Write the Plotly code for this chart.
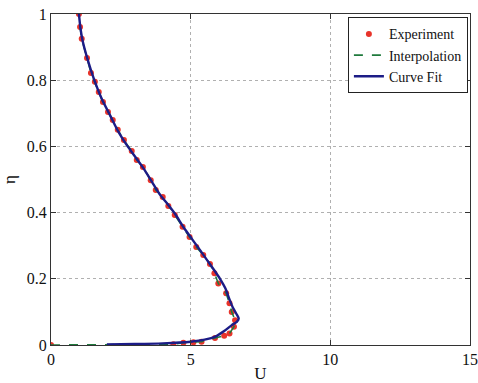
import plotly.graph_objects as go

# Experiment data (U, eta)
exp_u = [0.0, 4.38, 4.74, 5.10, 5.39, 5.87, 6.20, 6.39, 6.55, 6.59, 6.47, 6.39, 6.27, 5.99,
         5.85, 5.69, 5.45, 5.20, 4.96, 4.71, 4.43, 4.20, 4.00, 3.75, 3.57, 3.29, 3.07,
         2.89, 2.61, 2.39, 2.21, 2.04, 1.86, 1.71, 1.57, 1.43, 1.29, 1.10, 1.04, 1.00]
exp_eta = [0.0, 0.002, 0.007, 0.008, 0.010, 0.021, 0.028, 0.035, 0.055, 0.075, 0.100, 0.126, 0.156, 0.186,
           0.217, 0.245, 0.272, 0.296, 0.326, 0.357, 0.393, 0.420, 0.447, 0.468, 0.498, 0.538, 0.559,
           0.586, 0.619, 0.650, 0.680, 0.704, 0.734, 0.764, 0.795, 0.822, 0.867, 0.925, 0.961, 1.000]

# Interpolation through the experimental points
interp_u = [0.0, 2.0, 4.38, 4.74, 5.10, 5.39, 5.87, 6.20, 6.39, 6.55, 6.59, 6.47, 6.39, 6.27, 5.99,
            5.85, 5.69, 5.45, 5.20, 4.96, 4.71, 4.43, 4.20, 4.00, 3.75, 3.57, 3.29, 3.07,
            2.89, 2.61, 2.39, 2.21, 2.04, 1.86, 1.71, 1.57, 1.43, 1.29, 1.10, 1.04, 1.00]
interp_eta = [0.0, 0.001, 0.002, 0.007, 0.008, 0.010, 0.021, 0.028, 0.035, 0.055, 0.075, 0.100, 0.126, 0.156, 0.186,
              0.217, 0.245, 0.272, 0.296, 0.326, 0.357, 0.393, 0.420, 0.447, 0.468, 0.498, 0.538, 0.559,
              0.586, 0.619, 0.650, 0.680, 0.704, 0.734, 0.764, 0.795, 0.822, 0.867, 0.925, 0.961, 1.000]

# Curve fit
fit_u = [2.0, 3.0, 4.0, 5.0, 5.5, 5.9, 6.2, 6.47, 6.65, 6.72, 6.63, 6.50, 6.38, 6.25, 6.05,
         5.85, 5.60, 5.35, 5.05, 4.75, 4.45, 4.18, 3.92, 3.62, 3.32, 3.02, 2.72, 2.42,
         2.12, 1.82, 1.52, 1.31, 1.13, 1.05, 1.00]
fit_eta = [0.002, 0.003, 0.005, 0.010, 0.016, 0.026, 0.042, 0.060, 0.070, 0.080, 0.095, 0.115, 0.140,
           0.170, 0.200, 0.225, 0.255, 0.285, 0.320, 0.355, 0.395, 0.425, 0.452, 0.492, 0.533,
           0.568, 0.603, 0.643, 0.693, 0.743, 0.808, 0.863, 0.920, 0.960, 1.000]

x_ticks = [0, 5, 10, 15]
y_ticks = [0, 0.2, 0.4, 0.6, 0.8, 1]
y_tick_labels = ["0", "0.2", "0.4", "0.6", "0.8", "1"]

font_family = "Liberation Serif"

fig = go.Figure()
fig.add_trace(go.Scatter(x=exp_u, y=exp_eta, mode="markers", name="Experiment",
                         marker=dict(color="#e8332a", size=6)))
fig.add_trace(go.Scatter(x=interp_u, y=interp_eta, mode="lines", name="Interpolation",
                         line=dict(color="#1f7a3c", width=1.6, dash="dash")))
fig.add_trace(go.Scatter(x=fit_u, y=fit_eta, mode="lines", name="Curve Fit",
                         line=dict(color="#1c1c86", width=2.4, shape="spline", smoothing=0.6)))

axis_common = dict(showline=True, linecolor="#333333", linewidth=1.2, mirror="ticks",
                   ticks="inside", ticklen=5, tickcolor="#333333", automargin=False,
                   showgrid=True, gridcolor="#b0b0b0", griddash="dot", gridwidth=1,
                   zeroline=False, tickfont=dict(family=font_family, size=16, color="#111111"))

fig.update_layout(
    width=478, height=383,
    margin=dict(l=51, r=8, t=14, b=38, autoexpand=False),
    paper_bgcolor="white", plot_bgcolor="white",
    font=dict(family=font_family, size=15, color="#111111"),
    xaxis=dict(range=[0, 15], tickvals=x_ticks, title=dict(text="U", standoff=4,
               font=dict(family=font_family, size=17)), **axis_common),
    yaxis=dict(range=[0, 1], tickvals=y_ticks, ticktext=y_tick_labels,
               title=dict(text="η", standoff=8, font=dict(family=font_family, size=17)), **axis_common),
    legend=dict(x=0.995, y=0.99, xanchor="right", yanchor="top",
                bgcolor="white", bordercolor="#222222", borderwidth=1,
                font=dict(family=font_family, size=14), tracegroupgap=0, itemwidth=30),
    showlegend=True,
)

fig.write_html("out.html")
